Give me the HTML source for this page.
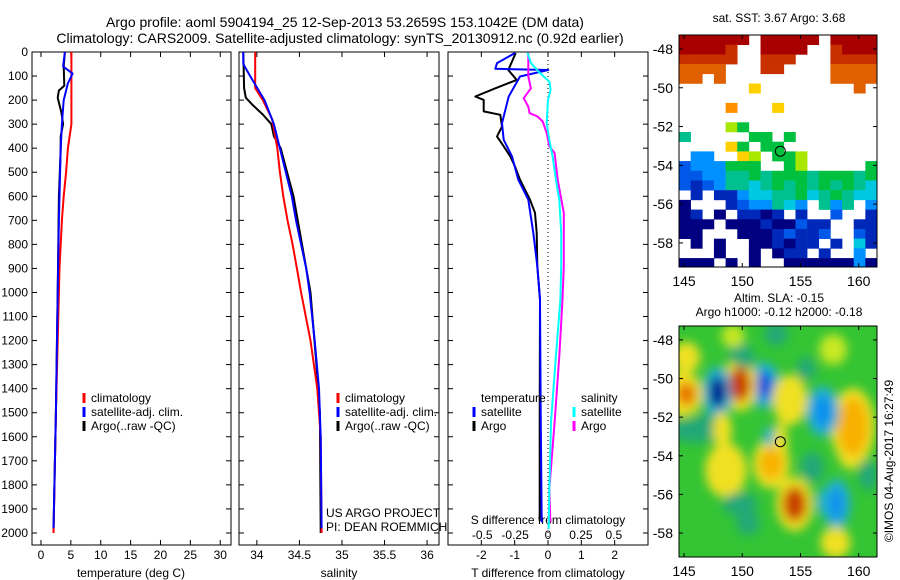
<!DOCTYPE html>
<html><head><meta charset="utf-8"><style>
body{margin:0;background:#fff;}
svg{display:block;font-family:"Liberation Sans",sans-serif;}
text{font-size:12px;fill:#000;}
</style></head><body>
<svg id="fig" width="900" height="580" viewBox="0 0 900 580" xmlns="http://www.w3.org/2000/svg">
<defs>
<filter id="blur" x="-50%" y="-50%" width="200%" height="200%"><feGaussianBlur stdDeviation="5"/></filter>
<clipPath id="clipMap2"><rect x="679" y="326" width="198" height="231"/></clipPath>
</defs>
<text x="345" y="27" text-anchor="middle" style="font-size:14px">Argo profile: aoml 5904194_25 12-Sep-2013 53.2659S 153.1042E (DM data)</text>
<text x="340" y="43" text-anchor="middle" style="font-size:14px">Climatology: CARS2009. Satellite-adjusted climatology: synTS_20130912.nc (0.92d earlier)</text>
<g id="g"></g>
</svg>
<script>
// ---------- data ----------
const depthTicks=[0,100,200,300,400,500,600,700,800,900,1000,1100,1200,1300,1400,1500,1600,1700,1800,1900,2000];
const tempTicks=[0,5,10,15,20,25,30];
const salTicks=[34,34.5,35,35.5,36];
const tdiffTicks=[-2,-1,0,1,2];
const sdiffTicks=[-0.5,-0.25,0,0.25,0.5];
const sdiffTickLabels=["-0.5","-0.25","0","0.25","0.5"];

const tClimDepth=[0,300,400,500,600,700,800,900,1000,1500,2000];
const tClim=[5.1,5.1,4.5,4.2,3.8,3.5,3.3,3.1,3.0,2.5,2.1];
const tSatDepth=[0,60,90,130,200,300,400,500,700,1000,1500,1980];
const tSat=[4.0,3.7,5.3,4.5,3.8,3.5,3.3,3.2,3.0,2.8,2.5,2.1];
const tArgoDepth=[0,60,140,160,190,250,300,350,400,600,1000,1500,2000];
const tArgo=[4.0,3.8,3.9,3.0,2.8,3.4,3.7,3.3,3.3,3.0,2.8,2.5,2.1];

const sClimDepth=[0,150,200,280,400,500,600,700,800,900,1000,1200,1400,1600,2000];
const sClim=[33.98,33.98,34.07,34.18,34.24,34.27,34.31,34.36,34.42,34.47,34.52,34.63,34.71,34.75,34.76];
const sSatDepth=[0,50,100,200,300,400,500,600,700,800,900,1000,1200,1400,1600,1980];
const sSat=[33.84,33.84,33.92,34.09,34.2,34.27,34.34,34.41,34.46,34.52,34.58,34.62,34.68,34.73,34.75,34.76];
const sArgoDepth=[0,150,190,220,260,300,350,400,600,800,1000,1300,1500,2000];
const sArgo=[33.84,33.85,33.87,33.95,34.07,34.17,34.2,34.28,34.43,34.53,34.63,34.7,34.74,34.75];

const dTSatDepth=[4,46,70,75,102,185,296,365,434,531,614,752,890,1029,1500,1955];
const dTSat=[-0.99,-1.53,-1.58,0.01,-0.84,-1.18,-1.38,-1.33,-1.08,-0.89,-0.59,-0.44,-0.32,-0.24,-0.22,-0.19];
const dTArgoDepth=[4,75,116,151,185,199,247,261,310,351,392,434,476,531,614,669,752,890,1029,1500,1950];
const dTArgo=[-0.97,-1.19,-0.94,-1.58,-2.18,-1.93,-1.93,-1.43,-1.38,-1.53,-1.33,-1.13,-0.99,-0.84,-0.54,-0.39,-0.34,-0.32,-0.24,-0.25,-0.25];
const dSSatDepth=[4,46,88,123,157,199,296,365,434,531,614,752,890,1029,1264,1540,1817,1983];
const dSSat=[-0.155,-0.13,-0.06,0.01,0.02,0,-0.01,0.01,0.035,0.06,0.086,0.1,0.1,0.094,0.06,0.023,0.01,0.005];
const dSArgoDepth=[4,60,102,151,192,227,254,268,289,337,392,420,531,669,890,1029,1264,1540,1817,1955];
const dSArgo=[-0.15,-0.15,-0.15,-0.13,-0.185,-0.15,-0.14,-0.08,-0.04,-0.01,0.01,0.05,0.074,0.12,0.12,0.11,0.086,0.05,0.01,0.018];

const sstRows=[
"cccccc.ccccc.cccc",
"ccccb..cccc..bcccc",
"bbbbb..bbb...bbbbb",
"aaaa...bb....aaaab",
"aa.a.........aaaaa",
"......8........a.a",
".................",
"....9...8........",
".................",
"....76...........",
"5.....66.6.......",
"....86.66........",
".33..87.667......",
"2333666..67.....6",
"22335565666566656",
"21235545656565654",
".1.11344556456544",
"0...1233543.535.3",
"01.0.1101.1..2..1",
"000.000100211..11",
"00...00012112..21",
".0.0..001011.1.41",
"...0..0.011.1..3.",
"000.0.0..00000030"];
const sstColors={"0":"#000080","1":"#0028b8","2":"#0058e8","3":"#0090ff","4":"#00c8e0","5":"#00c090","6":"#00c040","7":"#a8e800","8":"#ffd000","9":"#ff9000","a":"#e06000","b":"#c83000","c":"#a80000"};
const slaLon=[145.2,149.2,152.9,149.8,157.8,146,148.3,144.8,145.2,147.9,149.8,151.9,154.1,156.9,159.5,152.3,148.6,152.5,153.3,154.5,149.8,158.1,157.0,158.0,159.3,147.0,150.3,155.5,156.0,160.8,150.5];
const slaLat=[-48.9,-47.8,-47.7,-48.7,-48.5,-52.7,-52.7,-50.8,-50.8,-50.7,-50.3,-50.35,-51.1,-51.7,-52.5,-53.0,-54.75,-54.4,-53.4,-56.5,-56.5,-56.5,-56.4,-58.5,-53.5,-52.3,-49.0,-49.5,-54.6,-55.0,-57.5];
const slaVal=[0.9,0.8,-0.6,-0.5,0.8,-0.5,1.0,1.0,2.2,-3.0,2.5,-2.0,1.0,-1.7,1.5,-1.0,1.3,1.6,1.0,2.5,-0.5,-1.8,-1.0,1.2,1.0,-0.5,-0.5,-0.5,-0.5,-0.6,-0.5];
const slaRLon=[1.2,1.0,1.0,1.0,1.2,2.5,0.8,1.3,0.8,0.7,0.9,0.7,1.5,0.8,1.3,0.5,1.2,1.0,0.6,1.0,1.5,0.6,0.6,1.3,1.2,1.2,0.8,0.8,1.0,0.8,1.0];
const slaRLat=[0.8,0.6,0.6,0.6,0.8,0.6,1.0,1.2,0.6,0.8,0.9,0.7,1.3,0.8,1.5,0.5,0.9,0.8,1.2,0.9,0.6,0.8,0.7,0.8,1.2,0.5,0.5,0.6,0.8,0.8,0.6];

// ---------- helpers ----------
const NS="http://www.w3.org/2000/svg";
const G=document.getElementById('g');
function mk(tag,attrs,parent){const e=document.createElementNS(NS,tag);for(const k in attrs)e.setAttribute(k,attrs[k]);(parent||G).appendChild(e);return e;}
const Y0=52,Y1=545,DMAX=2050;
function yD(d){return Y0+d/DMAX*(Y1-Y0);}
function lin(a,b,p,q){return v=>p+(v-a)/(b-a)*(q-p);}
const panels=[
 {x0:32,x1:231,sx:lin(-1.5,31.8,32,231),name:'temperature-panel'},
 {x0:239,x1:439,sx:lin(33.79,36.14,239,439),name:'salinity-panel'},
 {x0:448,x1:648,sx:lin(-3,3,448,648),name:'difference-panel'}];
const sxS=lin(-0.76,0.76,448,648);

function line(xs,ds,sx,col,name){
  const pts=xs.map((v,i)=>sx(v).toFixed(1)+','+yD(ds[i]).toFixed(1)).join(' ');
  const p=mk('polyline',{points:pts,fill:'none',stroke:col,'stroke-width':2,'stroke-linejoin':'round'});
  
  
}
function txt(x,y,s,anchor,name,extra){
  const t=mk('text',Object.assign({x:x,y:y,'text-anchor':anchor||'start'},extra||{}));t.textContent=s;
  
  
  return t;
}

panels.forEach((P,pi)=>{
  const r=mk('rect',{x:P.x0,y:Y0,width:P.x1-P.x0,height:Y1-Y0,fill:'none',stroke:'#000','stroke-width':1});
  
  
  depthTicks.forEach(d=>{
    const y=yD(d);
    mk('line',{x1:P.x0,x2:P.x0+5,y1:y,y2:y,stroke:'#000'});
    mk('line',{x1:P.x1-5,x2:P.x1,y1:y,y2:y,stroke:'#000'});
  });
});
depthTicks.forEach(d=>txt(28,yD(d)+4,String(d),'end','depth-tick-label'));
const xt=[[tempTicks,panels[0].sx],[salTicks,panels[1].sx],[tdiffTicks,panels[2].sx]];
xt.forEach(([ticks,sx],i)=>ticks.forEach(v=>{
  const x=sx(v);
  mk('line',{x1:x,x2:x,y1:Y1,y2:Y1-5,stroke:'#000'});
  mk('line',{x1:x,x2:x,y1:Y0,y2:Y0+5,stroke:'#000'});
  txt(x,559,String(v),'middle','x-tick-label');
}));
sdiffTicks.forEach((v,i)=>txt(sxS(v),539,sdiffTickLabels[i],'middle','s-diff-tick-label'));
txt(131,577,'temperature (deg C)','middle','temperature-axis-title');
txt(339,577,'salinity','middle','salinity-axis-title');
txt(548,577,'T difference from climatology','middle','t-diff-axis-title');
txt(548,524,'S difference from climatology','middle','s-diff-axis-title');

const zl=mk('line',{x1:panels[2].sx(0),x2:panels[2].sx(0),y1:Y0,y2:Y1,stroke:'#000','stroke-dasharray':'1,3'});



line(tArgo,tArgoDepth,panels[0].sx,'#000','temp-argo-line');
line(tClim,tClimDepth,panels[0].sx,'#f00','temp-climatology-line');
line(tSat,tSatDepth,panels[0].sx,'#00f','temp-satellite-line');
line(sArgo,sArgoDepth,panels[1].sx,'#000','sal-argo-line');
line(sClim,sClimDepth,panels[1].sx,'#f00','sal-climatology-line');
line(sSat,sSatDepth,panels[1].sx,'#00f','sal-satellite-line');
line(dTArgo,dTArgoDepth,panels[2].sx,'#000','tdiff-argo-line');
line(dTSat,dTSatDepth,panels[2].sx,'#00f','tdiff-satellite-line');
line(dSArgo,dSArgoDepth,sxS,'#f0f','sdiff-argo-line');
line(dSSat,dSSatDepth,sxS,'#0ff','sdiff-satellite-line');

function leg(x,y,col,label,name){
  const l=mk('line',{x1:x,x2:x,y1:y-9,y2:y+1,stroke:col,'stroke-width':3});
  
  
  txt(x+7,y,label,'start',name);
}
leg(84,402,'#f00','climatology','legend-climatology');
leg(84,416,'#00f','satellite-adj. clim.','legend-satellite');
leg(84,430,'#000','Argo(..raw -QC)','legend-argo');
leg(338,402,'#f00','climatology','legend-climatology-2');
leg(338,416,'#00f','satellite-adj. clim.','legend-satellite-2');
leg(338,430,'#000','Argo(..raw -QC)','legend-argo-2');
txt(481,402,'temperature','start','legend-temperature-header');
leg(474,416,'#00f','satellite','legend-t-satellite');
leg(474,430,'#000','Argo','legend-t-argo');
txt(581,402,'salinity','start','legend-salinity-header');
leg(574,416,'#0ff','satellite','legend-s-satellite');
leg(574,430,'#f0f','Argo','legend-s-argo');
txt(326,517,'US ARGO PROJECT','start','project-credit');
txt(326,531,'PI: DEAN ROEMMICH','start','pi-credit');

const MX0=679,MX1=877,LON0=144.57,LON1=161.57,LAT0=-47.28,LAT1=-59.24;
function mapAxes(y0,y1,name){
  const lx=lin(LON0,LON1,MX0,MX1),ly=lin(LAT0,LAT1,y0,y1);
  const r=mk('rect',{x:MX0,y:y0,width:MX1-MX0,height:y1-y0,fill:'none',stroke:'#000'});
  
  
  [145,150,155,160].forEach(v=>{const x=lx(v);
    mk('line',{x1:x,x2:x,y1:y0,y2:y0+4,stroke:'#000'});mk('line',{x1:x,x2:x,y1:y1,y2:y1-4,stroke:'#000'});
    txt(x,y1+19,String(v),'middle',name+'-lon-label',{style:'font-size:14px'});});
  [-48,-50,-52,-54,-56,-58].forEach(v=>{const y=ly(v);
    mk('line',{x1:MX0,x2:MX0+4,y1:y,y2:y,stroke:'#000'});mk('line',{x1:MX1,x2:MX1-4,y1:y,y2:y,stroke:'#000'});
    txt(MX0-6,y+5,String(v),'end',name+'-lat-label',{style:'font-size:14px'});});
  const c=mk('circle',{cx:lx(153.27),cy:ly(-53.27),r:5,fill:'none',stroke:'#000'});
  
  
}
(function(){
  const y0=35,y1=267,lx=lin(LON0,LON1,MX0,MX1),ly=lin(LAT0,LAT1,y0,y1);
  sstRows.forEach((row,ri)=>{[...row].forEach((ch,ci)=>{
    if(!sstColors[ch])return;
    const la=LAT0-ri*0.5, lo=LON0+ci;
    const x=lx(lo),y=ly(la);
    const w=Math.min(lx(lo+1),MX1)-x,h=Math.min(ly(la-0.5),y1)-y;
    if(w<=0||h<=0)return;
    const r=mk('rect',{x:x,y:y,width:w+0.3,height:h+0.3,fill:sstColors[ch]});
    
    
  });});
  mapAxes(y0,y1,'sst-map');
  txt(779,22,'sat. SST: 3.67 Argo: 3.68','middle','sst-map-title');
})();
(function(){
  const y0=326,y1=557,lx=lin(LON0,LON1,MX0,MX1),ly=lin(LAT0,LAT1,y0,y1);
  const g=mk('g',{'clip-path':'url(#clipMap2)'});
  
  
  mk('rect',{x:MX0,y:y0,width:MX1-MX0,height:y1-y0,fill:'#34c434'},g);
  const bg=mk('g',{filter:'url(#blur)'},g);
  function col(v){
    if(v<=-2.5)return'#000090';if(v<=-1.9)return'#0050e0';if(v<=-1.4)return'#1090f0';
    if(v<=-0.8)return'#20b0d0';if(v<0)return'#20a878';
    if(v<0.9)return'#c8e820';if(v<1.4)return'#f0e020';if(v<1.8)return'#f8b000';
    if(v<2.3)return'#e87000';return'#c84000';}
  const idx=slaVal.map((v,i)=>i).sort((a,b)=>Math.abs(slaVal[a])-Math.abs(slaVal[b]));
  idx.forEach(i=>{
    const v=slaVal[i];
    if(Math.abs(v)>1.2){
      const h=mk('ellipse',{cx:lx(slaLon[i]),cy:ly(slaLat[i]),rx:(slaRLon[i]+0.6)*11.65,ry:(slaRLat[i]+0.5)*19.4,fill:v>0?'#f0e020':'#20b0d0'},bg);
      
      
    }
  });
  idx.forEach(i=>{
    const e=mk('ellipse',{cx:lx(slaLon[i]),cy:ly(slaLat[i]),rx:slaRLon[i]*11.65,ry:slaRLat[i]*19.4,fill:col(slaVal[i])},bg);
    
    
  });
  mapAxes(y0,y1,'sla-map');
  txt(779,302,'Altim. SLA: -0.15','middle','sla-map-title');
  txt(779,316,'Argo h1000: -0.12 h2000: -0.18','middle','sla-map-subtitle');
  txt(0,0,'\u00A9IMOS 04-Aug-2017 16:27:49','middle','timestamp',{transform:'translate(893,461) rotate(-90)'});
})();
</script>
</body></html>
